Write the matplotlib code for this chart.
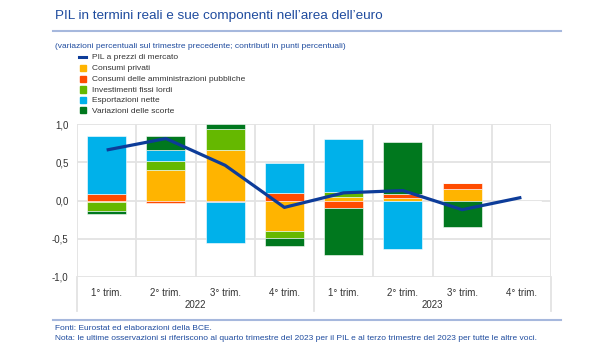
import numpy as np
import matplotlib
matplotlib.use("Agg")
import matplotlib.pyplot as plt
from matplotlib.patches import Rectangle
from matplotlib.lines import Line2D

plt.rcParams['font.family'] = ['Liberation Sans', 'DejaVu Sans']

quarters = ["1° trim.", "2° trim.", "3° trim.", "4° trim.",
            "1° trim.", "2° trim.", "3° trim.", "4° trim."]
years = ["2022", "2023"]

pil = [0.66, 0.81, 0.46, -0.09, 0.10, 0.13, -0.12, 0.04]
consumi_privati = [-0.02, 0.40, 0.66, -0.40, 0.04, 0.035, 0.15, np.nan]
consumi_pa = [0.085, -0.03, -0.02, 0.10, -0.10, 0.05, 0.08, np.nan]
investimenti = [-0.115, 0.11, 0.275, -0.09, 0.07, 0.0, 0.0, np.nan]
esportazioni = [0.76, 0.15, -0.53, 0.39, 0.69, -0.63, 0.0, np.nan]
scorte = [-0.035, 0.18, 0.065, -0.10, -0.61, 0.68, -0.34, np.nan]

components = [
    ("Consumi privati", consumi_privati, "#FFB400"),
    ("Consumi delle amministrazioni pubbliche", consumi_pa, "#FF4B00"),
    ("Investimenti fissi lordi", investimenti, "#65B800"),
    ("Esportazioni nette", esportazioni, "#00B1EA"),
    ("Variazioni delle scorte", scorte, "#00781E"),
]
line_color = "#0D3C99"
text_blue = "#1E4B9E"
grid_color = "#E3E3E3"

W, H = 600, 348
fig = plt.figure(figsize=(6, 3.48), dpi=100)

def fx(px):
    return px / W

def fy(py):
    return 1 - py / H

# plot area
x0, x1, ytop, ybot = 77, 551, 124, 277
ax = fig.add_axes([fx(x0), fy(ybot), fx(x1 - x0), (ybot - ytop) / H])
n = len(quarters)
x = np.arange(n)
ax.set_xlim(-0.5, n - 0.5)
ax.set_ylim(-1.0, 1.0)
for s in ax.spines.values():
    s.set_visible(False)
ax.set_yticks([-1.0, -0.5, 0.0, 0.5, 1.0])
ax.set_yticklabels(["-1,0", "-0,5", "0,0", "0,5", "1,0"], fontsize=7, color="#333333")
ax.tick_params(axis='y', length=0, pad=6)
ax.set_xticks(x)
ax.set_xticklabels(quarters, fontsize=7, color="#333333")
ax.tick_params(axis='x', length=0, pad=8)
for yv in [-1.0, -0.5, 0.0, 0.5, 1.0]:
    ax.axhline(yv, color=grid_color, lw=1.3, zorder=0)
for xv in np.arange(-0.5, n, 1.0):
    ax.axvline(xv, color=grid_color, lw=1.3, zorder=0)

# separators between years extend below the axis
ext = -(311 - ybot) / (ybot - ytop)
for xv in [-0.5, 3.5, 7.5]:
    ax.add_line(Line2D([xv, xv], [-1.0, -1.0 + ext * 2.0], color=grid_color,
                       lw=1.3, clip_on=False, zorder=0))
ax.text(1.5, -1.0 + ext * 2.0 * 0.82, years[0], ha="center", va="center",
        fontsize=7, color="#333333")
ax.text(5.5, -1.0 + ext * 2.0 * 0.82, years[1], ha="center", va="center",
        fontsize=7, color="#333333")

# stacked bars, positives upward and negatives downward
pos_base = np.zeros(n)
neg_base = np.zeros(n)
for label, vals, col in components:
    v = np.nan_to_num(np.array(vals, dtype=float))
    bottoms = np.where(v >= 0, pos_base, neg_base)
    ax.bar(x, v, bottom=bottoms, width=0.66, color=col, edgecolor="white",
           linewidth=0.4, zorder=2)
    pos_base = pos_base + np.where(v > 0, v, 0)
    neg_base = neg_base + np.where(v < 0, v, 0)

ax.plot(x, pil, color=line_color, lw=2.3, zorder=3, solid_capstyle="butt")

# title, rules and notes
fig.text(fx(55), fy(19), "PIL in termini reali e sue componenti nell\u2019area dell\u2019euro",
         fontsize=9.7, color=text_blue, ha="left", va="baseline")
fig.add_artist(Line2D([fx(53), fx(561)], [fy(31), fy(31)], color="#A6B8DD", lw=1.5))
fig.text(fx(55), fy(48), "(variazioni percentuali sul trimestre precedente; contributi in punti percentuali)",
         fontsize=6, color=text_blue, ha="left", va="baseline")
fig.add_artist(Line2D([fx(53), fx(561)], [fy(320), fy(320)], color="#A6B8DD", lw=1.5))
fig.text(fx(55), fy(330), "Fonti: Eurostat ed elaborazioni della BCE.",
         fontsize=6, color=text_blue, ha="left", va="baseline")
fig.text(fx(55), fy(340), "Nota: le ultime osservazioni si riferiscono al quarto trimestre del 2023 "
         "per il PIL e al terzo trimestre del 2023 per tutte le altre voci.",
         fontsize=6, color=text_blue, ha="left", va="baseline")

# legend
rows_y = [57, 68, 79, 89.5, 100, 110.5]
fig.add_artist(Line2D([fx(79), fx(86)], [fy(rows_y[0]), fy(rows_y[0])],
                      color=line_color, lw=2.2))
fig.text(fx(92.5), fy(rows_y[0] + 0.8), "PIL a prezzi di mercato", fontsize=6,
         color="#333333", ha="left", va="center")
for (label, vals, col), ry in zip(components, rows_y[1:]):
    fig.add_artist(Rectangle((fx(79.5), fy(ry + 3)), fx(6), 6 / H, color=col,
                             transform=fig.transFigure))
    fig.text(fx(92.5), fy(ry + 0.8), label, fontsize=6, color="#333333",
             ha="left", va="center")

fig.savefig("out.png", dpi=100, facecolor="white")
